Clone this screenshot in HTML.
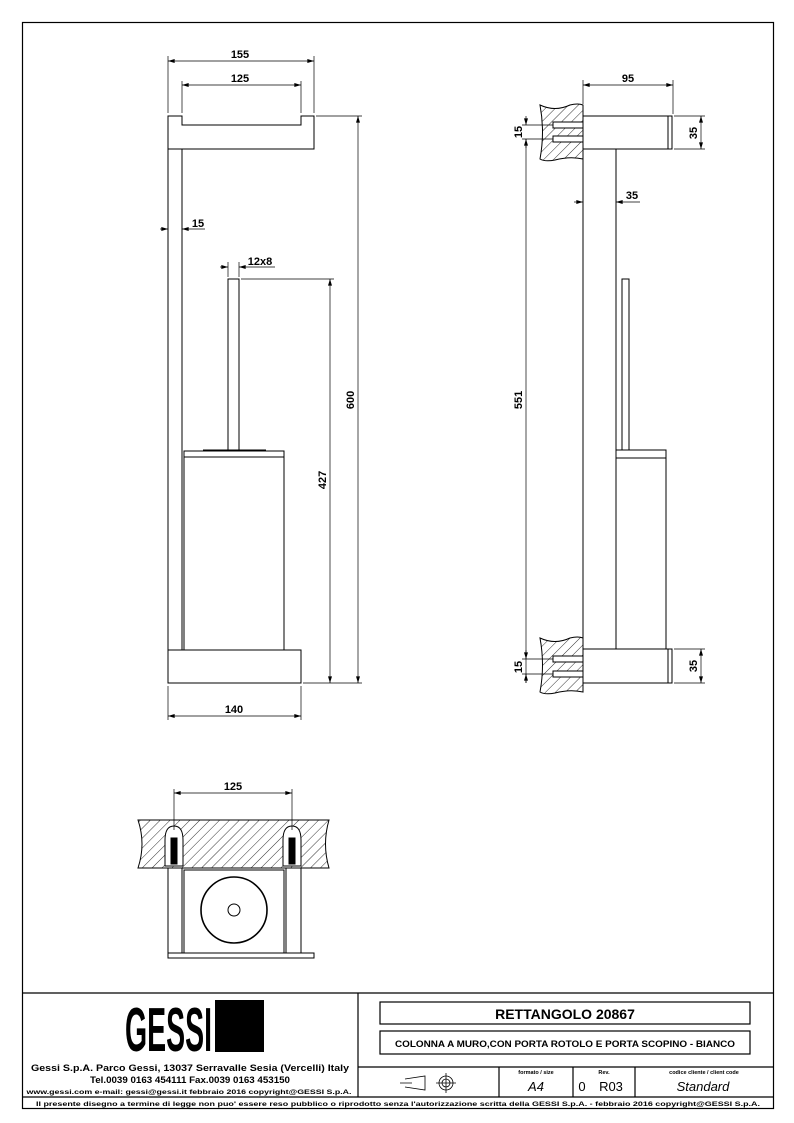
<!DOCTYPE html>
<html><head><meta charset="utf-8"><style>
html,body{margin:0;padding:0;background:#fff}
svg{display:block}
text{font-family:"Liberation Sans",sans-serif;fill:#000}
</style></head><body>
<svg width="794" height="1123" viewBox="0 0 794 1123" xmlns="http://www.w3.org/2000/svg">
<defs>
<pattern id="h" width="7" height="7" patternUnits="userSpaceOnUse" patternTransform="rotate(45)">
<line x1="0" y1="0" x2="0" y2="7" stroke="#000" stroke-width="0.8"/>
</pattern>
<marker id="a" viewBox="0 0 10 6" refX="10" refY="3" markerWidth="8" markerHeight="4" orient="auto-start-reverse" markerUnits="userSpaceOnUse"><path d="M0,0L10,3L0,6z" fill="#000"/></marker>
</defs>
<rect x="22.5" y="22.5" width="751" height="1086" fill="none" stroke="#000" stroke-width="1.2"/>

<g fill="none" stroke="#000" stroke-width="1">
<!-- FRONT VIEW -->
<path d="M168,116 H182 V125 H301 V116 H314 V149 H168 Z"/>
<line x1="168" y1="149" x2="168" y2="650"/>
<line x1="182" y1="149" x2="182" y2="650"/>
<rect x="228" y="279" width="11" height="171"/>
<line x1="203" y1="450" x2="266" y2="450"/>
<rect x="184" y="451" width="100" height="6"/>
<line x1="184" y1="457" x2="184" y2="650"/>
<line x1="284" y1="457" x2="284" y2="650"/>
<rect x="168" y="650" width="133" height="33"/>
</g>
<g fill="none" stroke="#000" stroke-width="0.7">
<line x1="168" y1="56" x2="168" y2="113"/><line x1="314" y1="56" x2="314" y2="113"/>
<line x1="168" y1="61" x2="314" y2="61" marker-start="url(#a)" marker-end="url(#a)"/>
<line x1="182" y1="81" x2="182" y2="113"/><line x1="301" y1="81" x2="301" y2="113"/>
<line x1="182" y1="85" x2="301" y2="85" marker-start="url(#a)" marker-end="url(#a)"/>
<line x1="160" y1="229" x2="168" y2="229" marker-end="url(#a)"/>
<line x1="205" y1="229" x2="182" y2="229" marker-end="url(#a)"/>
<line x1="220" y1="267" x2="228" y2="267" marker-end="url(#a)"/>
<line x1="275" y1="267" x2="239" y2="267" marker-end="url(#a)"/>
<line x1="228" y1="262" x2="228" y2="277"/><line x1="239" y1="262" x2="239" y2="277"/>
<line x1="241" y1="279" x2="334" y2="279"/>
<line x1="330" y1="279" x2="330" y2="683" marker-start="url(#a)" marker-end="url(#a)"/>
<line x1="316" y1="116" x2="362" y2="116"/>
<line x1="303" y1="683" x2="362" y2="683"/>
<line x1="358" y1="116" x2="358" y2="683" marker-start="url(#a)" marker-end="url(#a)"/>
<line x1="168" y1="686" x2="168" y2="720"/><line x1="301" y1="686" x2="301" y2="720"/>
<line x1="168" y1="716" x2="301" y2="716" marker-start="url(#a)" marker-end="url(#a)"/>
</g>
<g font-size="11" font-weight="bold" text-anchor="middle">
<text x="240" y="58">155</text>
<text x="240" y="82">125</text>
<text x="198" y="227">15</text>
<text x="260" y="265">12x8</text>
<text x="234" y="713">140</text>
<text transform="translate(326,480) rotate(-90)">427</text>
<text transform="translate(354,400) rotate(-90)">600</text>
</g>

<!-- SIDE VIEW -->
<g stroke="#000" stroke-width="1">
<path d="M540,105 Q555,112 570,105 Q578,103 583,105 V159 Q570,156 555,160 Q545,162 540,159 Q545,132 540,105Z" fill="url(#h)"/>
<path d="M540,638 Q555,645 570,638 Q578,636 583,638 V692 Q570,689 555,693 Q545,695 540,692 Q545,665 540,638Z" fill="url(#h)"/>
<g fill="#fff">
<rect x="553" y="122" width="30" height="6"/><rect x="553" y="136" width="30" height="6"/>
<rect x="553" y="656" width="30" height="6"/><rect x="553" y="671" width="30" height="6"/>
</g>
<g fill="none">
<line x1="583" y1="105" x2="583" y2="692"/>
<rect x="583" y="116" width="89" height="33"/><line x1="668" y1="116" x2="668" y2="149"/>
<line x1="616" y1="149" x2="616" y2="649"/>
<rect x="622" y="279" width="7" height="171"/>
<rect x="616" y="450" width="50" height="8"/>
<line x1="666" y1="458" x2="666" y2="649"/>
<rect x="583" y="649" width="89" height="34"/><line x1="668" y1="649" x2="668" y2="683"/>
</g>
</g>
<g fill="none" stroke="#000" stroke-width="0.7">
<line x1="583" y1="80" x2="583" y2="104"/><line x1="673" y1="80" x2="673" y2="114"/>
<line x1="583" y1="85" x2="673" y2="85" marker-start="url(#a)" marker-end="url(#a)"/>
<line x1="674" y1="116" x2="705" y2="116"/><line x1="674" y1="149" x2="705" y2="149"/>
<line x1="701" y1="116" x2="701" y2="149" marker-start="url(#a)" marker-end="url(#a)"/>
<line x1="674" y1="649" x2="705" y2="649"/><line x1="674" y1="683" x2="705" y2="683"/>
<line x1="701" y1="649" x2="701" y2="683" marker-start="url(#a)" marker-end="url(#a)"/>
<line x1="574" y1="202" x2="583" y2="202" marker-end="url(#a)"/>
<line x1="640" y1="202" x2="616" y2="202" marker-end="url(#a)"/>
<line x1="522" y1="125" x2="553" y2="125"/><line x1="522" y1="139" x2="553" y2="139"/>
<line x1="526" y1="116" x2="526" y2="125" marker-end="url(#a)"/>
<line x1="526" y1="139" x2="526" y2="683"/>
<line x1="526" y1="148" x2="526" y2="139" marker-end="url(#a)"/>
<line x1="522" y1="659" x2="553" y2="659"/><line x1="522" y1="674" x2="553" y2="674"/>
<line x1="526" y1="650" x2="526" y2="659" marker-end="url(#a)"/>
<line x1="526" y1="683" x2="526" y2="674" marker-end="url(#a)"/>
</g>
<g font-size="11" font-weight="bold" text-anchor="middle">
<text x="628" y="82">95</text>
<text x="632" y="199">35</text>
<text transform="translate(697,133) rotate(-90)">35</text>
<text transform="translate(697,666) rotate(-90)">35</text>
<text transform="translate(522,132) rotate(-90)">15</text>
<text transform="translate(522,667) rotate(-90)">15</text>
<text transform="translate(522,400) rotate(-90)">551</text>
</g>

<!-- TOP VIEW -->
<g stroke="#000" stroke-width="1">
<path d="M138,820 H329 Q322,844 329,868 H138 Q146,844 138,820Z" fill="url(#h)"/>
<path d="M165,866 V840 Q165,826 174,826 Q183,826 183,840 V866Z" fill="#fff"/>
<path d="M283,866 V840 Q283,826 292,826 Q301,826 301,840 V866Z" fill="#fff"/>
<rect x="171" y="838" width="6" height="26" fill="#000"/>
<rect x="289" y="838" width="6" height="26" fill="#000"/>
<g fill="none">
<line x1="168" y1="868" x2="168" y2="953"/><line x1="182" y1="868" x2="182" y2="953"/>
<line x1="286" y1="868" x2="286" y2="953"/><line x1="301" y1="868" x2="301" y2="953"/>
<rect x="184" y="870" width="100" height="83"/>
<circle cx="234" cy="910" r="33" stroke-width="1.6"/>
<circle cx="234" cy="910" r="6"/>
<rect x="168" y="953" width="146" height="5"/>
</g>
</g>
<g fill="none" stroke="#000" stroke-width="0.7">
<line x1="174" y1="789" x2="174" y2="830"/><line x1="292" y1="789" x2="292" y2="830"/>
<line x1="174" y1="793" x2="292" y2="793" marker-start="url(#a)" marker-end="url(#a)"/>
</g>
<text x="233" y="790" font-size="11" font-weight="bold" text-anchor="middle">125</text>

<!-- TITLE BLOCK -->
<g fill="none" stroke="#000" stroke-width="1.2">
<line x1="22" y1="993" x2="773" y2="993"/>
<line x1="358" y1="993" x2="358" y2="1097"/>
<line x1="22" y1="1097" x2="773" y2="1097"/>
<line x1="358" y1="1067" x2="773" y2="1067"/>
<line x1="499" y1="1067" x2="499" y2="1097"/>
<line x1="573" y1="1067" x2="573" y2="1097"/>
<line x1="635" y1="1067" x2="635" y2="1097"/>
<rect x="380" y="1002" width="370" height="22"/>
<rect x="380" y="1031" width="370" height="23"/>
</g>
<text x="565" y="1019" font-size="14" font-weight="bold" text-anchor="middle">RETTANGOLO  20867</text>
<text x="565" y="1047" font-size="9.5" font-weight="bold" text-anchor="middle" textLength="340" lengthAdjust="spacingAndGlyphs">COLONNA  A MURO,CON PORTA ROTOLO E PORTA SCOPINO - BIANCO</text>
<text x="125" y="1051" font-size="62" font-weight="bold" textLength="87" lengthAdjust="spacingAndGlyphs">GESSI</text>
<rect x="215" y="1000" width="49" height="52" fill="#000"/>
<text x="190" y="1071" font-size="9" font-weight="bold" text-anchor="middle" textLength="318" lengthAdjust="spacingAndGlyphs">Gessi S.p.A. Parco Gessi, 13037 Serravalle Sesia (Vercelli) Italy</text>
<text x="190" y="1083" font-size="9" font-weight="bold" text-anchor="middle" textLength="200" lengthAdjust="spacingAndGlyphs">Tel.0039 0163 454111 Fax.0039 0163 453150</text>
<text x="189" y="1094" font-size="6.5" font-weight="bold" text-anchor="middle" textLength="325" lengthAdjust="spacingAndGlyphs">www.gessi.com e-mail: gessi@gessi.it  febbraio 2016  copyright@GESSI S.p.A.</text>
<text x="398" y="1106" font-size="6.5" font-weight="bold" text-anchor="middle" textLength="724" lengthAdjust="spacingAndGlyphs">Il presente disegno a termine di legge non puo' essere reso pubblico o riprodotto senza l'autorizzazione scritta della GESSI S.p.A. - febbraio 2016  copyright@GESSI S.p.A.</text>
<g font-size="5.5" font-weight="bold" text-anchor="middle">
<text x="536" y="1074">formato / size</text>
<text x="604" y="1074">Rev.</text>
<text x="704" y="1074">codice cliente / client code</text>
</g>
<text x="536" y="1091" font-size="13" font-style="italic" text-anchor="middle">A4</text>
<text x="582" y="1091" font-size="13" text-anchor="middle">0</text>
<text x="611" y="1091" font-size="13" text-anchor="middle">R03</text>
<text x="703" y="1091" font-size="13" font-style="italic" text-anchor="middle">Standard</text>
<g fill="none" stroke="#000" stroke-width="0.8">
<path d="M405,1079 L425,1076 V1090 L405,1087 M400,1083 H412"/>
<circle cx="446" cy="1083" r="7"/><circle cx="446" cy="1083" r="4"/>
<line x1="436" y1="1083" x2="456" y2="1083"/><line x1="446" y1="1073" x2="446" y2="1093"/>
</g>
</svg>
</body></html>
